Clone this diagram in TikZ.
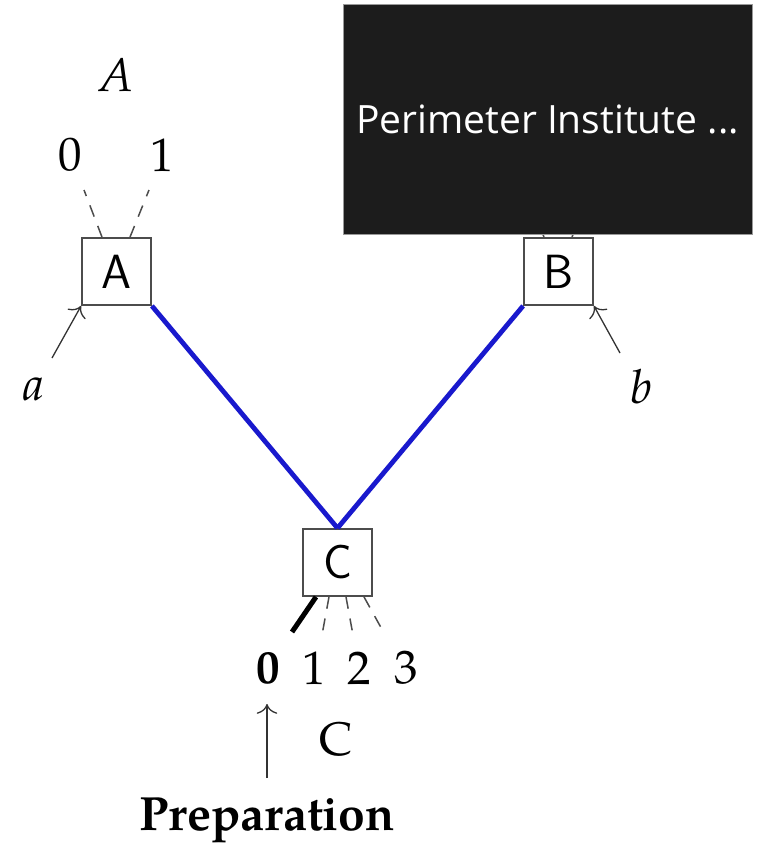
\documentclass[tikz,border=0pt]{standalone}
\usepackage{fontspec}
\usetikzlibrary{arrows.meta}
\setmainfont{TeX Gyre Pagella}
\newfontfamily\osans{Open Sans}
\definecolor{wireblue}{RGB}{25,25,205}
\definecolor{slate}{RGB}{28,28,28}
\begin{document}
\begin{tikzpicture}[x=1pt,y=-1pt,
  box/.style={draw=black!70,line width=1.8pt,minimum width=69pt,minimum height=67pt,inner sep=0pt,font=\sffamily\fontsize{48}{48}\selectfont},
  lbl/.style={inner sep=0pt,font=\fontsize{47}{47}\selectfont},
  dsh/.style={draw=black!70,line width=1.5pt,dash pattern=on 12pt off 10pt},
  wire/.style={draw=wireblue,line width=4.8pt},
  arr/.style={-{To[scale=2.2]},line width=1.3pt,draw=black!80}]
\useasboundingbox (0,0) rectangle (757,843);
% boxes
\node[box] (A) at (116.5,271.5) {A};
\node[box] (B) at (558.5,271.5) {B};
\node[box] (C) at (337.5,562.5) {C};
% blue wires
\draw[wire] (A.south east) -- (C.north);
\draw[wire] (B.south west) -- (C.north);
% A outputs
\coordinate (A0) at (84,190);
\coordinate (A1) at (149,190);
\draw[dsh] ([xshift=-14.5pt]A.north) -- (A0);
\draw[dsh] ([xshift=13.5pt]A.north) -- (A1);
\node[lbl] (Alab) at (116,75) {\itshape A};
\node[lbl] (Azero) at (70,155) {0};
\node[lbl] (Aone) at (162,155) {1};
% B outputs (hidden under overlay)
\coordinate (B0) at (526,190);
\coordinate (B1) at (591,190);
\draw[dsh] ([xshift=-14.5pt]B.north) -- (B0);
\draw[dsh] ([xshift=13.5pt]B.north) -- (B1);
% inputs a, b
\coordinate (a0) at (52,358);
\coordinate (b0) at (620,353);
\draw[arr] (a0) -- (A.south west);
\draw[arr] (b0) -- (B.south east);
\node[lbl] (alab) at (34,389) {\itshape a};
\node[lbl] (blab) at (641,387) {\itshape b};
% C outputs
\coordinate (c0) at (292,632);
\coordinate (c1) at (322,635);
\coordinate (c2) at (353,635);
\coordinate (c3) at (384,633);
\draw[line width=5pt,black] ([xshift=-21.5pt]C.south) -- (c0);
\draw[dsh] ([xshift=-8.5pt]C.south) -- (c1);
\draw[dsh] ([xshift=8.5pt]C.south) -- (c2);
\draw[dsh] ([xshift=26.5pt]C.south) -- (c3);
\node[lbl] (Czero) at (268,668) {\bfseries 0};
\node[lbl] (Cone) at (314,668) {1};
\node[lbl] (Ctwo) at (359,668) {2};
\node[lbl] (Cthree) at (406,668) {3};
\node[lbl] (Clab) at (336,739) {C};
% preparation
\node[lbl,anchor=base,font=\fontsize{48}{48}\selectfont] (prep) at (267,830) {\bfseries Preparation};
\coordinate (p0) at (267,778);
\coordinate (p1) at (267,704);
\draw[arr] (p0) -- (p1);
% overlay
\node[fill=slate,draw=black!40,line width=1pt,minimum width=409pt,minimum height=229pt,inner sep=0pt] (pi) at (547.5,119.5) {\osans\color{white}\fontsize{39}{39}\selectfont Perimeter Institute ...};
\end{tikzpicture}
\end{document}
